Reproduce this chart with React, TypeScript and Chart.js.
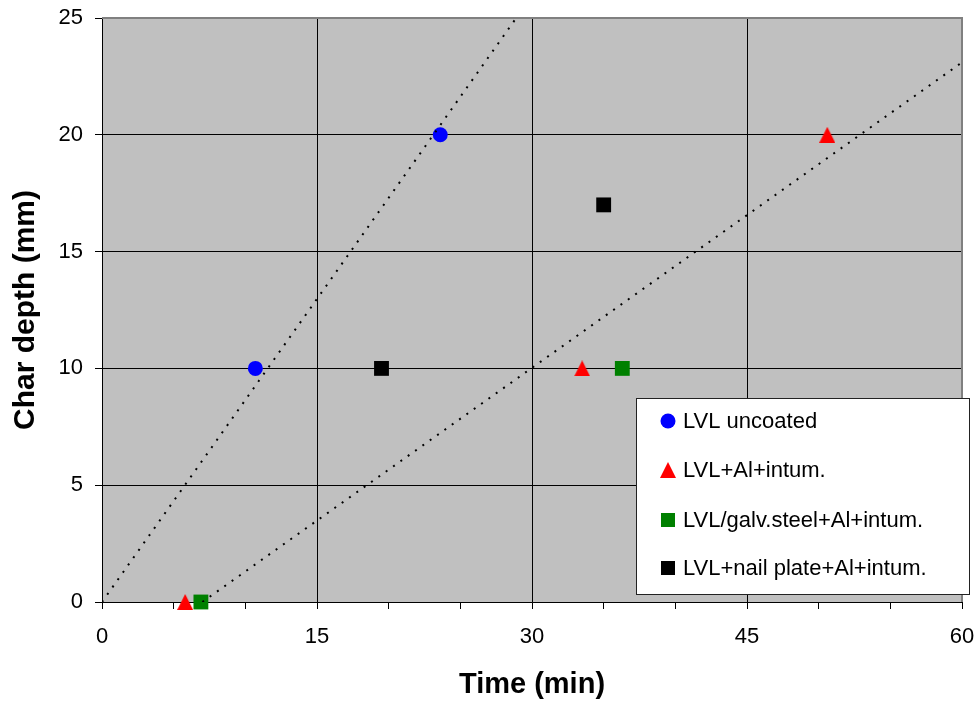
import React, { useEffect, useRef } from "react";
import { Chart, registerables } from "chart.js";

Chart.register(...registerables);

// Data
const uncoatedX = [10.7, 23.6];
const uncoatedY = [10, 20];
const intumX = [5.8, 33.5, 50.6];
const intumY = [0, 10, 20];
const galvX = [6.9, 36.3];
const galvY = [0, 10];
const nailX = [19.5, 35.0];
const nailY = [10, 17];
const trend1X = [0, 28.9];
const trend1Y = [0, 25];
const trend2X = [7.0, 60];
const trend2Y = [0, 23.1];

const seriesNames = [
  "LVL uncoated",
  "LVL+Al+intum.",
  "LVL/galv.steel+Al+intum.",
  "LVL+nail plate+Al+intum.",
];
const xTitle = "Time (min)";
const yTitle = "Char depth (mm)";

const FONT = "'Liberation Sans', Arial, sans-serif";

const pts = (xs: number[], ys: number[]) => xs.map((x, i) => ({ x, y: ys[i] }));

function makeTriangle(size: number, color: string): HTMLCanvasElement {
  const c = document.createElement("canvas");
  c.width = size;
  c.height = size;
  const g = c.getContext("2d")!;
  g.fillStyle = color;
  g.beginPath();
  g.moveTo(size / 2, 0);
  g.lineTo(size, size);
  g.lineTo(0, size);
  g.closePath();
  g.fill();
  return c;
}

const legendStyles = [
  { style: "circle", color: "#0000FF", r: 7.5 },
  { style: "triangle", color: "#FF0000", r: 16 },
  { style: "rect", color: "#008000", r: 14 },
  { style: "rect", color: "#000000", r: 14 },
];

function drawMarker(ctx: CanvasRenderingContext2D, style: string, x: number, y: number, r: number, color: string) {
  ctx.save();
  ctx.fillStyle = color;
  ctx.beginPath();
  if (style === "circle") {
    ctx.arc(x, y, r, 0, Math.PI * 2);
  } else if (style === "triangle") {
    ctx.moveTo(x, y - r / 2);
    ctx.lineTo(x + r / 2, y + r / 2);
    ctx.lineTo(x - r / 2, y + r / 2);
    ctx.closePath();
  } else {
    ctx.rect(x - r / 2, y - r / 2, r, r);
  }
  ctx.fill();
  ctx.restore();
}

const backgroundPlugin = {
  id: "plotBg",
  beforeDraw(chart: any) {
    const { ctx, chartArea } = chart;
    ctx.save();
    ctx.fillStyle = "#ffffff";
    ctx.fillRect(0, 0, chart.width, chart.height);
    ctx.fillStyle = "#C0C0C0";
    ctx.fillRect(chartArea.left, chartArea.top, chartArea.right - chartArea.left, chartArea.bottom - chartArea.top);
    ctx.restore();
  },
  beforeDatasetsDraw(chart: any) {
    const { ctx, chartArea } = chart;
    ctx.save();
    ctx.strokeStyle = "#808080";
    ctx.lineWidth = 2;
    ctx.beginPath();
    ctx.moveTo(chartArea.left, chartArea.top);
    ctx.lineTo(chartArea.right, chartArea.top);
    ctx.lineTo(chartArea.right, chartArea.bottom);
    ctx.stroke();
    ctx.restore();
  },
};

const legendPlugin = {
  id: "customLegend",
  afterDraw(chart: any) {
    const { ctx } = chart;
    const boxL = 636.5, boxT = 398.5, boxW = 333, boxH = 196;
    ctx.save();
    ctx.fillStyle = "#ffffff";
    ctx.fillRect(boxL, boxT, boxW, boxH);
    ctx.strokeStyle = "#222222";
    ctx.lineWidth = 1;
    ctx.strokeRect(boxL, boxT, boxW, boxH);
    ctx.font = `22px ${FONT}`;
    ctx.textBaseline = "middle";
    ctx.textAlign = "left";
    const rows = [421, 470, 520, 568];
    seriesNames.forEach((name, i) => {
      const st = legendStyles[i];
      drawMarker(ctx, st.style, 668, rows[i], st.r, st.color);
      ctx.fillStyle = "#000000";
      ctx.fillText(name, 683, rows[i] + 1);
    });
    ctx.restore();
  },
};

export default function App() {
  const canvasRef = useRef<HTMLCanvasElement | null>(null);

  useEffect(() => {
    const canvas = canvasRef.current;
    if (!canvas) return;
    const tri = makeTriangle(16, "#FF0000");
    const trendStyle = {
      type: "line" as const,
      showLine: true,
      borderColor: "#000000",
      borderWidth: 2,
      borderDash: [2, 7],
      pointRadius: 0,
      fill: false,
    };
    const markerBase = { pointBorderWidth: 0, clip: false };
    const chart = new Chart(canvas, {
      type: "scatter",
      data: {
        datasets: [
          { ...trendStyle, label: "trend1", data: pts(trend1X, trend1Y) },
          { ...trendStyle, label: "trend2", data: pts(trend2X, trend2Y) },
          {
            ...markerBase,
            label: seriesNames[0],
            data: pts(uncoatedX, uncoatedY),
            pointStyle: "circle",
            pointRadius: 7.5,
            pointBackgroundColor: "#0000FF",
          },
          {
            ...markerBase,
            label: seriesNames[1],
            data: pts(intumX, intumY),
            pointStyle: tri,
            pointRadius: 8,
            pointBackgroundColor: "#FF0000",
          },
          {
            ...markerBase,
            label: seriesNames[2],
            data: pts(galvX, galvY),
            pointStyle: "rect",
            pointRadius: 10.5,
            pointBackgroundColor: "#008000",
          },
          {
            ...markerBase,
            label: seriesNames[3],
            data: pts(nailX, nailY),
            pointStyle: "rect",
            pointRadius: 10.5,
            pointBackgroundColor: "#000000",
          },
        ] as any,
      },
      options: {
        animation: false,
        responsive: true,
        maintainAspectRatio: false,
        layout: { padding: { top: 18, right: 18, left: 0, bottom: 0 } },
        plugins: {
          legend: { display: false },
          tooltip: { enabled: false },
        },
        scales: {
          x: {
            type: "linear",
            min: 0,
            max: 60,
            afterFit: (s: any) => {
              s.height = 100;
              s.paddingLeft = 0;
              s.paddingRight = 0;
            },
            ticks: {
              stepSize: 5,
              autoSkip: false,
              maxRotation: 0,
              padding: 15,
              color: "#000000",
              font: { family: FONT, size: 22 },
              callback: (v: any) => (Number(v) % 15 === 0 ? String(v) : ""),
            },
            grid: {
              color: (c: any) => (c.tick && c.tick.value % 15 === 0 ? "#000000" : "rgba(0,0,0,0)"),
              tickColor: "#000000",
              tickLength: 7,
              lineWidth: 1,
            },
            border: { display: true, color: "#000000", width: 1 },
            title: {
              display: true,
              text: xTitle,
              color: "#000000",
              font: { family: FONT, size: 29, weight: "bold" },
              padding: { top: 0, bottom: 0 },
            },
          },
          y: {
            type: "linear",
            min: 0,
            max: 25,
            afterFit: (s: any) => {
              s.width = 102;
              s.paddingTop = 0;
              s.paddingBottom = 0;
            },
            ticks: {
              stepSize: 5,
              padding: 12,
              color: "#000000",
              font: { family: FONT, size: 22 },
            },
            grid: {
              color: "#000000",
              tickColor: "#000000",
              tickLength: 7,
              lineWidth: 1,
            },
            border: { display: true, color: "#000000", width: 1 },
            title: {
              display: true,
              text: yTitle,
              color: "#000000",
              font: { family: FONT, size: 30, weight: "bold" },
              padding: { top: 8, bottom: 0 },
            },
          },
        },
      } as any,
      plugins: [backgroundPlugin, legendPlugin],
    });
    return () => chart.destroy();
  }, []);

  return (
    <div style={{ position: "absolute", left: 0, top: 0, width: 980, height: 702 }}>
      <canvas ref={canvasRef} />
    </div>
  );
}
